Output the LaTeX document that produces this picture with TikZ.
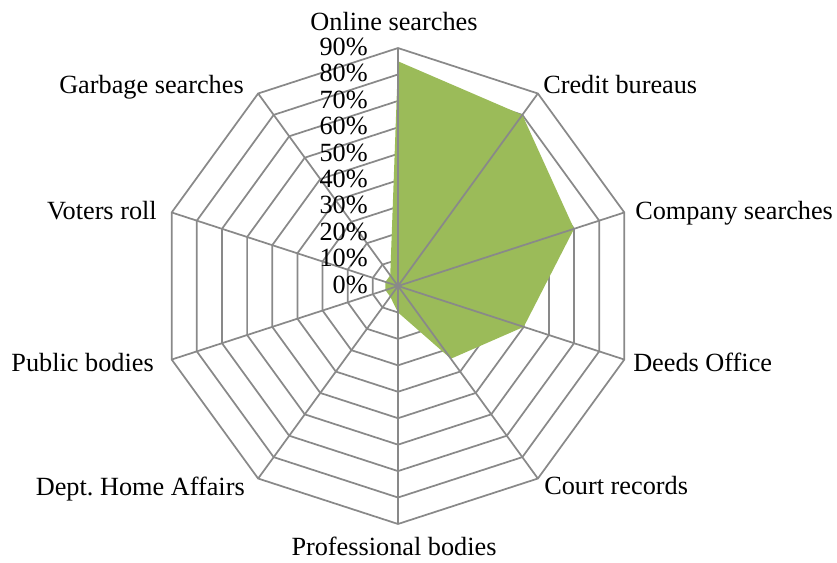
\documentclass[tikz,border=0pt]{standalone}
\usepackage{fontspec}
\setmainfont{Liberation Serif}
\definecolor{gridgray}{HTML}{898989}
\definecolor{areagreen}{HTML}{9BBB59}
\begin{document}
\begin{tikzpicture}[x=0.75pt,y=-0.75pt,
  grid/.style={draw=gridgray, line width=1.3pt, line join=miter},
  lbl/.style={font=\fontsize{19.7}{23}\selectfont, inner sep=0pt, text=black}]
\useasboundingbox (0,0) rectangle (837,562);
\coordinate (O) at (398,286);
\begin{scope}[shift={(398,286)}]
  % rings
  \foreach \k in {1,...,9} {
    \pgfmathsetmacro{\r}{\k*26.44}
    \draw[grid] (-90:\r) -- (-54:\r) -- (-18:\r) -- (18:\r) -- (54:\r) -- (90:\r) -- (126:\r) -- (162:\r) -- (198:\r) -- (234:\r) -- cycle;
  }
  % data area
  \fill[areagreen] (-90:224.7) -- (-54:211.5) -- (-18:185.1) -- (18:132.2) -- (54:89.9) -- (90:26.4) -- (126:13.2) -- (162:13.2) -- (198:13.2) -- (234:13.2) -- cycle;
  % axis ends
  \foreach \i in {0,...,9} {
    \coordinate (a\i) at (36*\i-90:238);
  }
\end{scope}
% spokes
\foreach \i in {0,...,9} {
  \draw[grid] (O) -- (a\i);
}
% percentage labels
\foreach \k in {0,...,9} {
  \pgfmathtruncatemacro{\p}{\k*10}
  \node[lbl, anchor=base east] (p\k) at (368, {293.3-\k*26.44}) {\p\%};
}
% category labels
\node[lbl, anchor=base] (l0) at (394,30) {Online searches};
\node[lbl, anchor=base west] (l1) at (543,93) {Credit bureaus};
\node[lbl, anchor=base west] (l2) at (635,219) {Company searches};
\node[lbl, anchor=base west] (l3) at (633,371) {Deeds Office};
\node[lbl, anchor=base west] (l4) at (544,494) {Court records};
\node[lbl, anchor=base] (l5) at (394,555) {Professional bodies};
\node[lbl, anchor=base east] (l6) at (245,495) {Dept.\ Home Affairs};
\node[lbl, anchor=base east] (l7) at (154,371) {Public bodies};
\node[lbl, anchor=base east] (l8) at (157,219) {Voters roll};
\node[lbl, anchor=base east] (l9) at (244,93) {Garbage searches};
\end{tikzpicture}
\end{document}
